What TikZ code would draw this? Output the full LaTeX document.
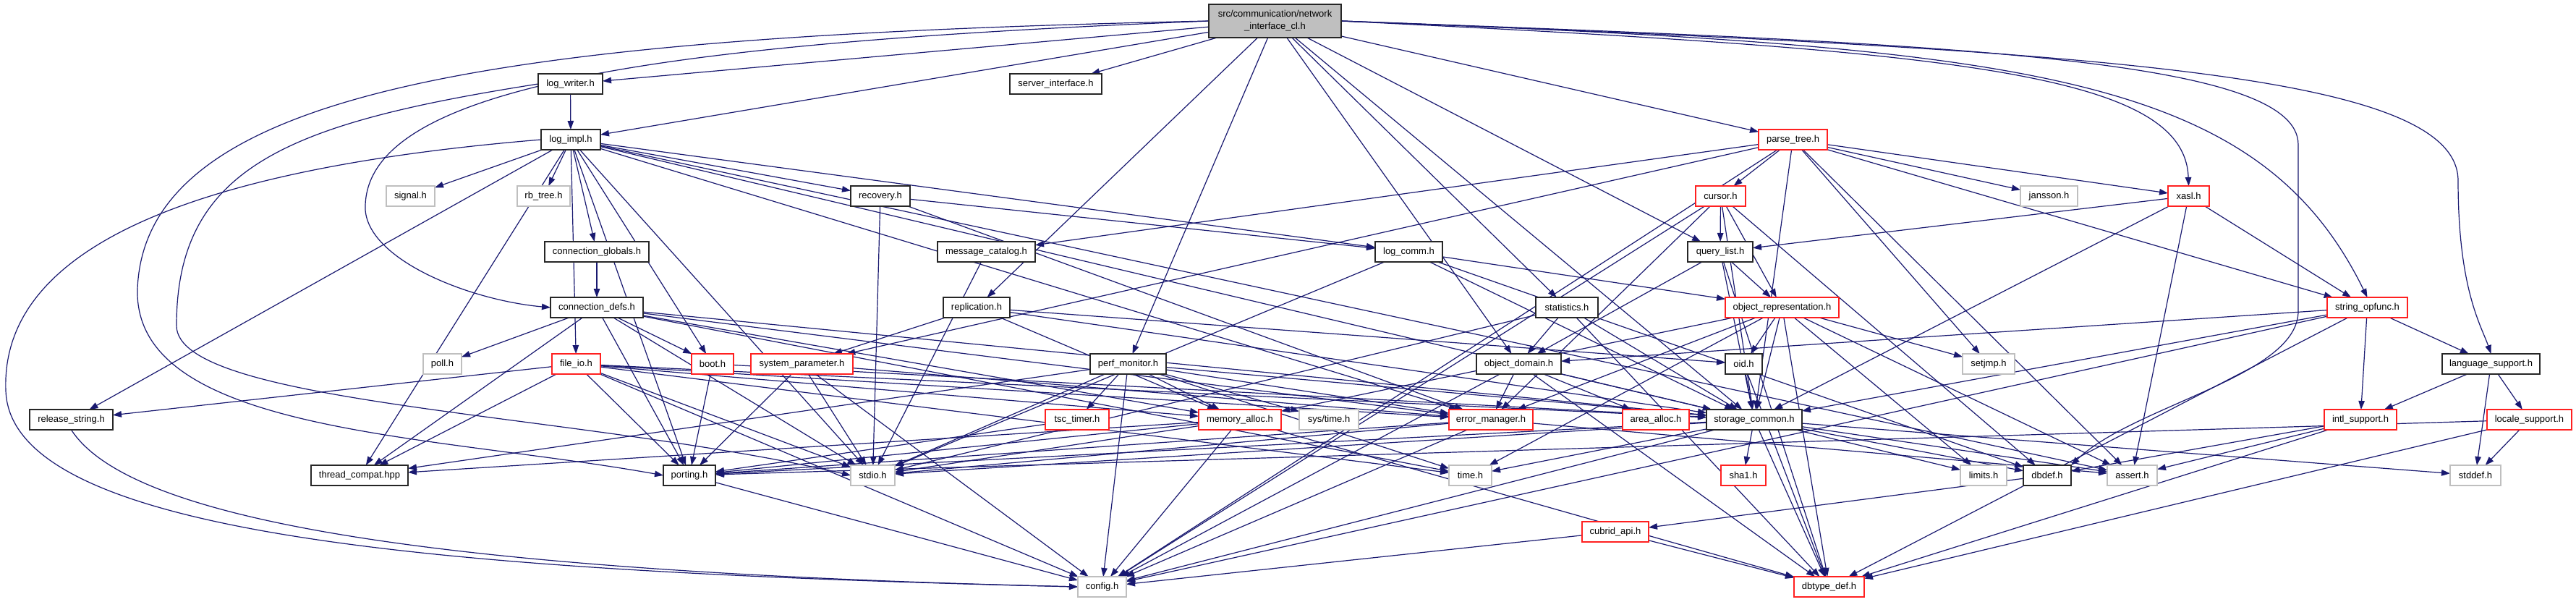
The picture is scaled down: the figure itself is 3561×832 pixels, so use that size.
\documentclass[tikz,border=0pt]{standalone}
\usepackage{fontspec}
\setmainfont{Liberation Sans}
\usetikzlibrary{arrows.meta}
\definecolor{edgec}{HTML}{191970}
\definecolor{redc}{HTML}{FF2020}
\definecolor{greyc}{HTML}{BFBFBF}
\definecolor{topfill}{HTML}{BFBFBF}
\pgfdeclarelayer{bg}
\pgfsetlayers{bg,main}
\begin{document}
\begin{tikzpicture}[x=1pt,y=-1pt,
  nd/.style={draw=black!85, fill=white, line width=1.3pt, minimum height=28pt, inner sep=0pt, outer sep=0pt, font=\fontsize{13}{17}\selectfont},
  rd/.style={nd, draw=redc},
  gd/.style={nd, draw=greyc},
  edge/.style={draw=edgec, line width=1.2pt, -{Triangle[length=12pt,width=8.5pt]}}]
\useasboundingbox (0,0) rectangle (3561,832);
% nodes
\node[nd, fill=topfill, minimum width=183pt, minimum height=46pt, align=center] (T) at (1762.5,29) {src/communication/network\\\_interface\_cl.h};
\node[nd, minimum width=89pt] (lw) at (788.5,116) {log\_writer.h};
\node[nd, minimum width=127pt] (si) at (1459.5,116) {server\_interface.h};
\node[nd, minimum width=82pt] (li) at (789,193) {log\_impl.h};
\node[rd, minimum width=95pt] (pt) at (2478.5,193) {parse\_tree.h};
\node[gd, minimum width=67pt] (signal) at (567.5,271) {signal.h};
\node[gd, minimum width=73pt] (rbtree) at (751.5,271) {rb\_tree.h};
\node[nd, minimum width=82pt] (rec) at (1217,271) {recovery.h};
\node[rd, minimum width=69pt] (cursor) at (2378.5,271) {cursor.h};
\node[gd, minimum width=79pt] (jansson) at (2832.5,271) {jansson.h};
\node[rd, minimum width=57pt] (xasl) at (3025.5,271) {xasl.h};
\node[nd, minimum width=144pt] (cglob) at (825,348) {connection\_globals.h};
\node[nd, minimum width=135pt] (msgcat) at (1363.5,348) {message\_catalog.h};
\node[nd, minimum width=93pt] (lcomm) at (1947.5,348) {log\_comm.h};
\node[nd, minimum width=90pt] (ql) at (2378,348) {query\_list.h};
\node[nd, minimum width=128pt] (cdefs) at (825,425) {connection\_defs.h};
\node[nd, minimum width=92pt] (repl) at (1350,425) {replication.h};
\node[nd, minimum width=86pt] (stat) at (2166,425) {statistics.h};
\node[rd, minimum width=157pt] (orep) at (2463.5,425) {object\_representation.h};
\node[rd, minimum width=111pt] (sof) at (3272.5,425) {string\_opfunc.h};
\node[gd, minimum width=53pt] (poll) at (611.5,503) {poll.h};
\node[rd, minimum width=67pt] (fio) at (796.5,503) {file\_io.h};
\node[rd, minimum width=58pt] (boot) at (985,503) {boot.h};
\node[rd, minimum width=141pt] (sp) at (1108.5,503) {system\_parameter.h};
\node[nd, minimum width=105pt] (perf) at (1559.5,503) {perf\_monitor.h};
\node[nd, minimum width=117pt] (od) at (2099.5,503) {object\_domain.h};
\node[nd, minimum width=51pt] (oid) at (2410.5,503) {oid.h};
\node[gd, minimum width=72pt] (setjmp) at (2749,503) {setjmp.h};
\node[nd, minimum width=135pt] (ls) at (3443.5,503) {language\_support.h};
\node[nd, minimum width=115pt] (rstr) at (98.5,580) {release\_string.h};
\node[rd, minimum width=88pt] (tsc) at (1489,580) {tsc\_timer.h};
\node[rd, minimum width=114pt] (ma) at (1714,580) {memory\_alloc.h};
\node[gd, minimum width=82pt] (systime) at (1837,580) {sys/time.h};
\node[rd, minimum width=116pt] (em) at (2061,580) {error\_manager.h};
\node[rd, minimum width=92pt] (aa) at (2289,580) {area\_alloc.h};
\node[nd, minimum width=132pt] (sc) at (2425,580) {storage\_common.h};
\node[rd, minimum width=100pt] (intl) at (3263,580) {intl\_support.h};
\node[rd, minimum width=117pt] (loc) at (3496.5,580) {locale\_support.h};
\node[nd, minimum width=134pt] (thr) at (497,657) {thread\_compat.hpp};
\node[nd, minimum width=72pt] (port) at (953,657) {porting.h};
\node[gd, minimum width=61pt] (stdio) at (1206.5,657) {stdio.h};
\node[gd, minimum width=59pt] (time) at (2032.5,657) {time.h};
\node[rd, minimum width=62pt] (sha) at (2410,657) {sha1.h};
\node[gd, minimum width=64pt] (lim) at (2742,657) {limits.h};
\node[nd, minimum width=66pt] (dbdef) at (2830,657) {dbdef.h};
\node[gd, minimum width=69pt] (asrt) at (2947.5,657) {assert.h};
\node[gd, minimum width=70pt] (stddef) at (3422,657) {stddef.h};
\node[rd, minimum width=92pt] (capi) at (2233,735) {cubrid\_api.h};
\node[gd, minimum width=67pt] (cfg) at (1523.5,811) {config.h};
\node[rd, minimum width=97pt] (dbt) at (2528.5,811) {dbtype\_def.h};
\begin{pgfonlayer}{bg}
\fill[white] (0,0) rectangle (3561,832);
% T
\foreach \t in {lw,li,si,repl,perf,od,stat,ql,pt,sc} \draw[edge] (T) -- (\t);
\draw[edge] (T.west) .. controls (900,60) and (500,120) .. (505,290) .. controls (510,360) and (650,415) .. (cdefs.west);
\draw[edge] (T.west) .. controls (700,50) and (200,120) .. (190,400) .. controls (185,600) and (600,600) .. (port.west);
\draw[edge] (T.east) .. controls (2700,70) and (3020,100) .. (xasl.north);
\draw[edge] (T.east) .. controls (2800,65) and (3120,100) .. (sof.north);
\draw[edge] (T.east) .. controls (2900,70) and (3398,100) .. (3398,250) .. controls (3398,400) and (3430,450) .. (ls.north);
\draw[edge] (T.east) .. controls (2700,60) and (3177,80) .. (3177,200) -- (3177,430) .. controls (3177,520) and (2950,560) .. (dbdef.north east);
% lw
\draw[edge] (lw) -- (li);
\draw[edge] (lw.west) .. controls (400,170) and (244,230) .. (244,450) .. controls (244,560) and (800,570) .. (stdio.west);
% li
\foreach \t in {signal,rbtree,cglob,fio,boot,rec,lcomm,rstr,thr,port,stdio,sc,em,asrt} \draw[edge] (li) -- (\t);
\draw[edge] (li.west) .. controls (300,230) and (0,330) .. (8,540) .. controls (15,740) and (600,790) .. (cfg.west);
% others
\draw[edge] (cglob) -- (cdefs);
\foreach \t in {poll,thr,port,stdio,boot,ma,em,sc,time} \draw[edge] (cdefs) -- (\t);
\foreach \t in {lcomm,stdio,em} \draw[edge] (rec) -- (\t);
\draw[edge] (msgcat) -- (stdio);
\foreach \t in {sp,ma,oid,sc} \draw[edge] (repl) -- (\t);
\foreach \t in {port,sc} \draw[edge] (boot) -- (\t);
\foreach \t in {port,stdio,cfg,em} \draw[edge] (sp) -- (\t);
\foreach \t in {rstr,thr,port,stdio,cfg,ma,em,sc,time} \draw[edge] (fio) -- (\t);
\foreach \t in {tsc,ma,systime,thr,stdio,cfg,sc,time,em} \draw[edge] (perf) -- (\t);
\draw[edge] (tsc) -- (port);
\foreach \t in {thr,port,stdio,cfg,dbt} \draw[edge] (ma) -- (\t);
\foreach \t in {cfg,port,stdio,asrt} \draw[edge] (em) -- (\t);
\foreach \t in {sha,time,cfg,dbt,stdio,port,lim,asrt,dbdef,stddef} \draw[edge] (sc) -- (\t);
\foreach \t in {em,aa,sc,cfg,dbt} \draw[edge] (od) -- (\t);
\foreach \t in {od,stdio,sc,dbt} \draw[edge] (stat) -- (\t);
\foreach \t in {orep,stdio,sc,dbdef} \draw[edge] (lcomm) -- (\t);
\foreach \t in {orep,od,sc,dbt} \draw[edge] (ql) -- (\t);
\foreach \t in {ql,orep,cfg,em,sc,dbdef} \draw[edge] (cursor) -- (\t);
\foreach \t in {cursor,msgcat,sp,jansson,xasl,sof,setjmp,cfg,sc,asrt} \draw[edge] (pt) -- (\t);
\foreach \t in {oid,sc,setjmp,ma,em,lim,asrt,dbt,time} \draw[edge] (orep) -- (\t);
\foreach \t in {sc,dbt} \draw[edge] (oid) -- (\t);
\foreach \t in {ql,sof,sc,asrt} \draw[edge] (xasl) -- (\t);
\foreach \t in {od,ls,intl,cfg,dbt,sc} \draw[edge] (sof) -- (\t);
\foreach \t in {intl,loc,stddef} \draw[edge] (ls) -- (\t);
\foreach \t in {dbt,asrt,dbdef} \draw[edge] (intl) -- (\t);
\foreach \t in {stddef,dbt,port} \draw[edge] (loc) -- (\t);
\draw[edge] (dbdef) -- (capi);
\foreach \t in {dbt,cfg} \draw[edge] (capi) -- (\t);
\draw[edge] (port) -- (cfg);
\draw[edge] (rstr.south) .. controls (180,720) and (600,790) .. (cfg.west);
\end{pgfonlayer}
\end{tikzpicture}
\end{document}
